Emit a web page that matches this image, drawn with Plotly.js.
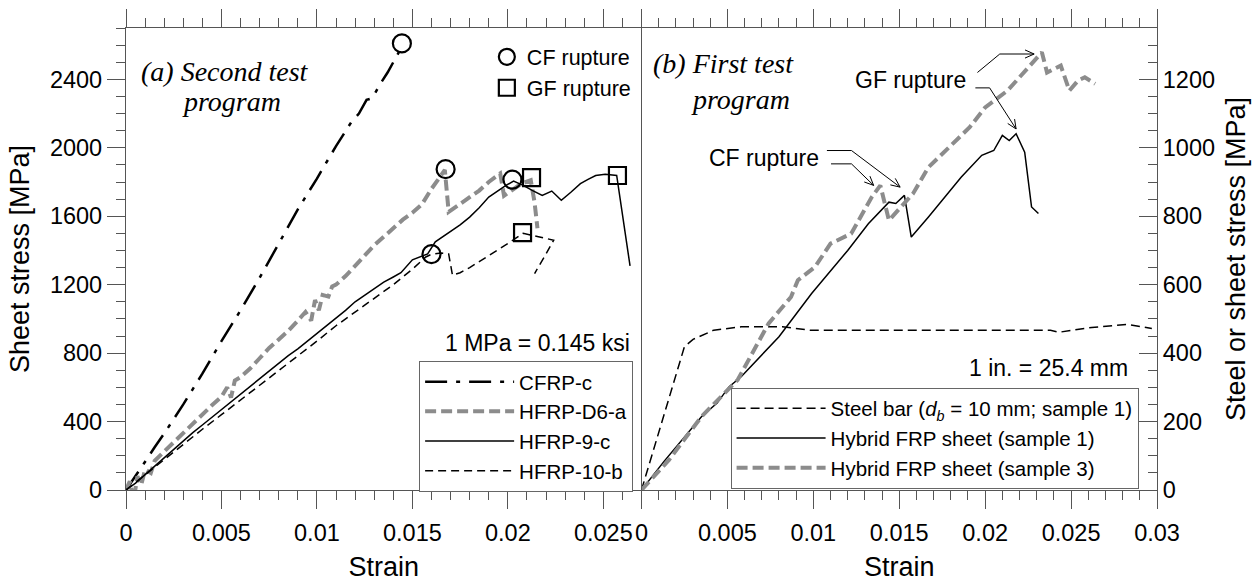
<!DOCTYPE html>
<html>
<head>
<meta charset="utf-8">
<script src="https://cdn.plot.ly/plotly-3.0.1.min.js"></script>
<style>
html,body{margin:0;padding:0;background:#fff;}
#chart{width:1256px;height:582px;}
</style>
</head>
<body>
<div id="chart"></div>
<script>
// ---------- (a) Second test program ----------
const cfrpX = [0, 0.0005, 0.001, 0.0015, 0.002, 0.003, 0.004, 0.005, 0.006, 0.007, 0.008, 0.009, 0.010, 0.011, 0.0118, 0.0122, 0.0126, 0.0129, 0.0133, 0.0137, 0.0141, 0.0144];
const cfrpY = [0, 80, 165, 250, 330, 500, 680, 870, 1050, 1240, 1440, 1640, 1820, 2010, 2150, 2200, 2280, 2290, 2370, 2440, 2520, 2580];

const d6aX = [0, 0.0002, 0.0004, 0.0006, 0.0008, 0.001, 0.0013, 0.0015, 0.002, 0.0025, 0.003, 0.0035, 0.004, 0.0045, 0.005, 0.0053, 0.0055, 0.0057, 0.006, 0.0065, 0.007, 0.0075, 0.008, 0.0085, 0.009, 0.0094, 0.0097, 0.0099, 0.0101, 0.0103, 0.0106, 0.0108, 0.011, 0.0115, 0.012, 0.0125, 0.013, 0.0135, 0.014, 0.0145, 0.015, 0.0155, 0.016, 0.0164, 0.0167, 0.0169, 0.0175, 0.0180, 0.0185, 0.0190, 0.0196, 0.0198, 0.0207, 0.0212, 0.0214, 0.02155];
const d6aY = [0, 50, -60, 80, 30, 120, 100, 170, 225, 280, 330, 385, 440, 495, 545, 600, 540, 640, 660, 710, 770, 830, 880, 930, 990, 1040, 990, 1110, 1050, 1140, 1130, 1190, 1200, 1250, 1310, 1370, 1430, 1480, 1530, 1580, 1620, 1670, 1760, 1820, 1870, 1625, 1670, 1710, 1750, 1800, 1850, 1720, 1790, 1810, 1680, 1530];

const h9X = [0, 0.0005, 0.001, 0.0015, 0.002, 0.0025, 0.003, 0.0035, 0.004, 0.0045, 0.005, 0.0055, 0.006, 0.0065, 0.007, 0.0075, 0.008, 0.0085, 0.009, 0.0095, 0.010, 0.0105, 0.011, 0.0115, 0.012, 0.0125, 0.013, 0.0135, 0.014, 0.0144, 0.015, 0.0155, 0.0158, 0.0162, 0.0166, 0.017, 0.0175, 0.018, 0.0185, 0.019, 0.0195, 0.0199, 0.0203, 0.0208, 0.0213, 0.0218, 0.0223, 0.0228, 0.0233, 0.0238, 0.0242, 0.0246, 0.0251, 0.0255, 0.0257, 0.0264];
const h9Y = [0, 40, 90, 140, 190, 240, 290, 335, 380, 425, 470, 515, 560, 610, 650, 700, 740, 785, 825, 870, 910, 955, 1000, 1050, 1100, 1140, 1180, 1215, 1245, 1270, 1345, 1365, 1380, 1450, 1480, 1515, 1550, 1595, 1650, 1712, 1750, 1780, 1805, 1780, 1750, 1722, 1747, 1693, 1740, 1790, 1815, 1838, 1845, 1838, 1838, 1310];

const h10X = [0, 0.0005, 0.001, 0.0015, 0.002, 0.003, 0.004, 0.005, 0.006, 0.007, 0.008, 0.009, 0.010, 0.011, 0.012, 0.013, 0.014, 0.015, 0.0157, 0.016, 0.0165, 0.0169, 0.0171, 0.0175, 0.018, 0.0185, 0.019, 0.0195, 0.020, 0.0204, 0.0208, 0.0216, 0.0224, 0.0219, 0.0214];
const h10Y = [0, 45, 85, 130, 175, 265, 355, 440, 525, 610, 700, 785, 870, 960, 1040, 1120, 1200, 1290, 1362, 1378, 1385, 1380, 1255, 1270, 1300, 1335, 1370, 1400, 1440, 1470, 1500, 1480, 1460, 1360, 1265];

const cfRuptureX = [0.01445, 0.01674, 0.0160, 0.02024];
const cfRuptureY = [2610, 1875, 1378, 1814];
const gfRuptureX = [0.02124, 0.02077, 0.02574];
const gfRuptureY = [1825, 1504, 1838];

// ---------- (b) First test program ----------
const steelX = [0, 0.0011, 0.0025, 0.003, 0.0042, 0.0058, 0.0082, 0.0098, 0.015, 0.020, 0.0238, 0.0243, 0.0262, 0.0283, 0.0297];
const steelY = [0, 185, 419, 440, 467, 477, 477, 467, 467, 467, 467, 461, 475, 484, 472];

const s1X = [0, 0.0013, 0.0035, 0.0044, 0.0051, 0.0058, 0.008, 0.0099, 0.012, 0.0132, 0.0144, 0.0148, 0.0153, 0.0157, 0.0167, 0.0186, 0.0198, 0.0205, 0.021, 0.0214, 0.0218, 0.0223, 0.0227, 0.0231];
const s1Y = [0, 83, 215, 254, 302, 331, 448, 574, 700, 778, 841, 837, 861, 739, 798, 914, 978, 992, 1036, 1021, 1041, 987, 827, 808];

const s3X = [0, 0.0016, 0.0035, 0.0056, 0.0074, 0.0087, 0.0091, 0.0101, 0.011, 0.0122, 0.0134, 0.0139, 0.0144, 0.0158, 0.0167, 0.0177, 0.0191, 0.02, 0.0213, 0.0233, 0.0236, 0.0244, 0.0249, 0.0254, 0.0258, 0.0264];
const s3Y = [0, 88, 215, 322, 487, 564, 613, 652, 720, 749, 856, 890, 788, 866, 943, 992, 1060, 1118, 1167, 1279, 1220, 1240, 1167, 1196, 1206, 1187];

// tick settings
const xTickVals = [0, 0.005, 0.01, 0.015, 0.02, 0.025, 0.03];
const leftTickVals = [0, 400, 800, 1200, 1600, 2000, 2400];
const rightTickVals = [0, 200, 400, 600, 800, 1000, 1200];

const GRAY = '#8c8c8c';
const AX = '#555';
const FONT = 'Liberation Sans, Arial, sans-serif';
const SERIF = 'Liberation Serif, Times New Roman, serif';

const W = 1256, H = 582, ML = 126, MR = 99, MT = 28, MB = 92;
const X2_RANGE = [0, 0.03], Y2_RANGE = [0, 1350];
// pixels per data unit on the right panel (used only for annotation arrowheads)
const pxPerX2 = 0.5 * (W - ML - MR) / (X2_RANGE[1] - X2_RANGE[0]);
const pxPerY2 = (H - MT - MB) / (Y2_RANGE[1] - Y2_RANGE[0]);

function leader(pts) {
  let d = 'M' + pts[0][0] + ',' + pts[0][1];
  for (let i = 1; i < pts.length; i++) d += ' L' + pts[i][0] + ',' + pts[i][1];
  return {type: 'path', xref: 'x2', yref: 'y2', path: d, line: {color: '#000', width: 1}};
}
function arrowHead(tail, tip) {
  const dx = (tip[0] - tail[0]) * pxPerX2, dy = -(tip[1] - tail[1]) * pxPerY2;
  const L = Math.hypot(dx, dy), bx = -dx / L, by = -dy / L;
  const a = 24 * Math.PI / 180, len = 10;
  const pts = [a, -a].map(t => {
    const rx = bx * Math.cos(t) - by * Math.sin(t), ry = bx * Math.sin(t) + by * Math.cos(t);
    return [tip[0] + rx * len / pxPerX2, tip[1] - ry * len / pxPerY2];
  });
  return {type: 'path', xref: 'x2', yref: 'y2',
    path: 'M' + pts[0][0] + ',' + pts[0][1] + ' L' + tip[0] + ',' + tip[1] + ' L' + pts[1][0] + ',' + pts[1][1],
    line: {color: '#000', width: 1}};
}

// leader lines for the "CF rupture" / "GF rupture" call-outs (right panel)
const cfLeaderA = [[0.01079, 992], [0.01222, 992], [0.01505, 885]];
const cfLeaderB = [[0.01103, 953], [0.01222, 953], [0.01351, 890]];
const gfLeaderA = [[0.01955, 1220], [0.02085, 1274], [0.02285, 1274]];
const gfLeaderB = [[0.01943, 1175], [0.02026, 1175], [0.0218, 1055]];
const leaders = [cfLeaderA, cfLeaderB, gfLeaderA, gfLeaderB];
const shapes = [];
leaders.forEach(p => {
  shapes.push(leader(p));
  shapes.push(arrowHead(p[p.length - 2], p[p.length - 1]));
});

const traces = [
  {x: cfrpX, y: cfrpY, name: 'CFRP-c', mode: 'lines', xaxis: 'x', yaxis: 'y', legend: 'legend',
   line: {color: '#000', width: 2.5, dash: '22px,9px,4px,9px'}},
  {x: d6aX, y: d6aY, name: 'HFRP-D6-a', mode: 'lines', xaxis: 'x', yaxis: 'y', legend: 'legend',
   line: {color: GRAY, width: 4, dash: '11px,5px'}},
  {x: h9X, y: h9Y, name: 'HFRP-9-c', mode: 'lines', xaxis: 'x', yaxis: 'y', legend: 'legend',
   line: {color: '#000', width: 1.5}},
  {x: h10X, y: h10Y, name: 'HFRP-10-b', mode: 'lines', xaxis: 'x', yaxis: 'y', legend: 'legend',
   line: {color: '#000', width: 1.5, dash: '8px,5px'}},
  {x: cfRuptureX, y: cfRuptureY, name: 'CF rupture', mode: 'markers', xaxis: 'x', yaxis: 'y', legend: 'legend3',
   marker: {symbol: 'circle-open', size: 18, color: '#000', line: {width: 2.2, color: '#000'}}},
  {x: gfRuptureX, y: gfRuptureY, name: 'GF rupture', mode: 'markers', xaxis: 'x', yaxis: 'y', legend: 'legend3',
   marker: {symbol: 'square-open', size: 17, color: '#000', line: {width: 2.2, color: '#000'}}},
  {x: steelX, y: steelY, name: 'Steel bar (<i>d</i><sub><i>b</i></sub> = 10 mm; sample 1)', mode: 'lines', xaxis: 'x2', yaxis: 'y2', legend: 'legend2',
   line: {color: '#000', width: 1.5, dash: '9px,5px'}},
  {x: s1X, y: s1Y, name: 'Hybrid FRP sheet (sample 1)', mode: 'lines', xaxis: 'x2', yaxis: 'y2', legend: 'legend2',
   line: {color: '#000', width: 1.5}},
  {x: s3X, y: s3Y, name: 'Hybrid FRP sheet (sample 3)', mode: 'lines', xaxis: 'x2', yaxis: 'y2', legend: 'legend2',
   line: {color: GRAY, width: 4, dash: '11px,5px'}}
];

const xCommon = {
  showline: true, linecolor: AX, linewidth: 1.2, mirror: 'allticks',
  ticks: 'outside', ticklen: 18, tickwidth: 1.2, tickcolor: AX,
  minor: {dtick: 0.001, ticklen: 9, tickwidth: 1.2, tickcolor: AX, ticks: 'outside'},
  tickvals: xTickVals, showgrid: false, zeroline: false, ticklabelstandoff: 4,
  tickfont: {family: FONT, size: 23.5, color: '#000'},
  title: {text: 'Strain', font: {family: FONT, size: 27, color: '#000'}, standoff: 12}
};

const layout = {
  width: W, height: H,
  margin: {l: ML, r: MR, t: MT, b: MB, pad: 0},
  paper_bgcolor: '#fff', plot_bgcolor: '#fff',
  font: {family: FONT, color: '#000'},
  xaxis: Object.assign({}, xCommon, {domain: [0, 0.5], range: [0, 0.027], anchor: 'y'}),
  xaxis2: Object.assign({}, xCommon, {domain: [0.5, 1], range: X2_RANGE, anchor: 'y2'}),
  yaxis: {
    domain: [0, 1], range: [0, 2700], anchor: 'x',
    showline: true, linecolor: AX, linewidth: 1.2, mirror: false,
    ticks: 'outside', ticklen: 18, tickwidth: 1.2, tickcolor: AX,
    minor: {dtick: 100, ticklen: 9, tickwidth: 1.2, tickcolor: AX, ticks: 'outside'},
    tickvals: leftTickVals, showgrid: false, zeroline: false,
    tickfont: {family: FONT, size: 23.5, color: '#000'},
    title: {text: 'Sheet stress [MPa]', font: {family: FONT, size: 27, color: '#000'}, standoff: 12}
  },
  yaxis2: {
    domain: [0, 1], range: Y2_RANGE, anchor: 'x2', side: 'right',
    showline: true, linecolor: AX, linewidth: 1.2, mirror: true,
    ticks: 'inside', ticklen: 18, tickwidth: 1.2, tickcolor: AX,
    minor: {dtick: 50, ticklen: 9, tickwidth: 1.2, tickcolor: AX, ticks: 'inside'},
    tickvals: rightTickVals, showgrid: false, zeroline: false,
    tickfont: {family: FONT, size: 23.5, color: '#000'},
    title: {text: 'Steel or sheet stress [MPa]', font: {family: FONT, size: 27, color: '#000'}, standoff: 12}
  },
  showlegend: true,
  legend: {x: 0.2843, y: 0.2795, xanchor: 'left', yanchor: 'top', bgcolor: '#fff',
    bordercolor: '#666', borderwidth: 1, font: {family: FONT, size: 20.5, color: '#000'},
    itemwidth: 89, tracegroupgap: 0},
  legend2: {x: 0.5864, y: 0.2218, xanchor: 'left', yanchor: 'top', bgcolor: '#fff',
    bordercolor: '#666', borderwidth: 1, font: {family: FONT, size: 20.5, color: '#000'},
    itemwidth: 89, tracegroupgap: 0},
  legend3: {x: 0.350, y: 0.982, xanchor: 'left', yanchor: 'top', bgcolor: 'rgba(0,0,0,0)',
    borderwidth: 0, font: {family: FONT, size: 21.5, color: '#000'}, tracegroupgap: 0},
  shapes: shapes,
  annotations: [
    {xref: 'paper', yref: 'paper', x: 0.096, y: 0.905, text: '<i>(a) Second test</i>', showarrow: false,
     font: {family: SERIF, size: 28, color: '#000'}, xanchor: 'center', yanchor: 'middle'},
    {xref: 'paper', yref: 'paper', x: 0.1028, y: 0.840, text: '<i>program</i>', showarrow: false,
     font: {family: SERIF, size: 28, color: '#000'}, xanchor: 'center', yanchor: 'middle'},
    {xref: 'paper', yref: 'paper', x: 0.5795, y: 0.923, text: '<i>(b) First test</i>', showarrow: false,
     font: {family: SERIF, size: 28, color: '#000'}, xanchor: 'center', yanchor: 'middle'},
    {xref: 'paper', yref: 'paper', x: 0.5965, y: 0.8445, text: '<i>program</i>', showarrow: false,
     font: {family: SERIF, size: 28, color: '#000'}, xanchor: 'center', yanchor: 'middle'},
    {xref: 'paper', yref: 'paper', x: 0.3987, y: 0.318, text: '1 MPa = 0.145 ksi', showarrow: false,
     font: {family: FONT, size: 23, color: '#000'}, xanchor: 'center', yanchor: 'middle'},
    {xref: 'paper', yref: 'paper', x: 0.8945, y: 0.2637, text: '1 in. = 25.4 mm', showarrow: false,
     font: {family: FONT, size: 23, color: '#000'}, xanchor: 'center', yanchor: 'middle'},
    {xref: 'x2', yref: 'y2', x: 0.00713, y: 969, text: 'CF rupture', showarrow: false,
     font: {family: FONT, size: 23, color: '#000'}, xanchor: 'center', yanchor: 'middle'},
    {xref: 'x2', yref: 'y2', x: 0.01563, y: 1198, text: 'GF rupture', showarrow: false,
     font: {family: FONT, size: 23, color: '#000'}, xanchor: 'center', yanchor: 'middle'}
  ]
};

Plotly.newPlot('chart', traces, layout, {displayModeBar: false, responsive: false});
</script>
</body>
</html>
